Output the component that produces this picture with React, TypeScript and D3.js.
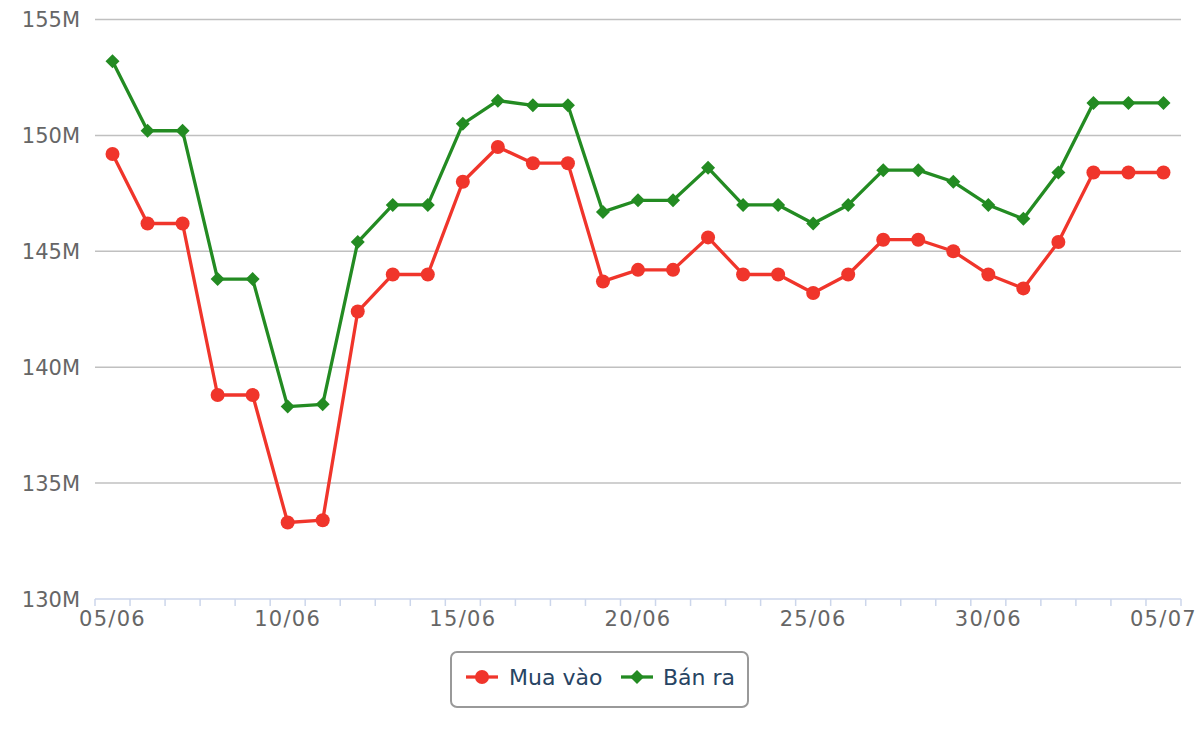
import React from "react";
import * as d3 from "d3";

const categories = [
  "05/06","06/06","07/06","08/06","09/06","10/06","11/06","12/06","13/06","14/06",
  "15/06","16/06","17/06","18/06","19/06","20/06","21/06","22/06","23/06","24/06",
  "25/06","26/06","27/06","28/06","29/06","30/06","01/07","02/07","03/07","04/07","05/07",
];
const muaVao = [
  149.2,146.2,146.2,138.8,138.8,133.3,133.4,142.4,144.0,144.0,
  148.0,149.5,148.8,148.8,143.7,144.2,144.2,145.6,144.0,144.0,
  143.2,144.0,145.5,145.5,145.0,144.0,143.4,145.4,148.4,148.4,148.4,
];
const banRa = [
  153.2,150.2,150.2,143.8,143.8,138.3,138.4,145.4,147.0,147.0,
  150.5,151.5,151.3,151.3,146.7,147.2,147.2,148.6,147.0,147.0,
  146.2,147.0,148.5,148.5,148.0,147.0,146.4,148.4,151.4,151.4,151.4,
];
const yTicks = [130, 135, 140, 145, 150, 155];
const seriesNames = ["Mua vào", "Bán ra"];

const RED = "#f0352b";
const GREEN = "#238b22";
const FONT = "'DejaVu Sans', Verdana, sans-serif";

export default function App() {
  const W = 1200, H = 740;
  const left = 95, right = 1181, top = 19.5, bottom = 599;
  const x = d3.scaleBand<string>().domain(categories).range([left, right]);
  const cx = (c: string) => (x(c) as number) + x.bandwidth() / 2;
  const y = d3.scaleLinear().domain([130, 155]).range([bottom, top]);
  const line = d3.line<number>().x((_, i) => cx(categories[i])).y((d) => y(d));
  const diamond = (px: number, py: number, r: number) =>
    `M${px},${py - r}L${px + r},${py}L${px},${py + r}L${px - r},${py}Z`;

  const tickBounds = [...categories.map((c) => x(c) as number), right];

  return (
    <svg width={W} height={H} style={{ position: "absolute", left: 0, top: 0, background: "#fff" }}>
      {yTicks.map((t) => (
        <g key={t}>
          {t !== 130 && (
            <line x1={left} x2={right} y1={y(t)} y2={y(t)} stroke="#c0c0c0" strokeWidth={1.5} />
          )}
          <text x={80} y={y(t)} dy="0.36em" textAnchor="end" fontFamily={FONT} fontSize={21} fill="#666">
            {t}M
          </text>
        </g>
      ))}
      <line x1={left} x2={right} y1={bottom} y2={bottom} stroke="#ccd6eb" strokeWidth={1.5} />
      {tickBounds.map((b, i) => (
        <line key={i} x1={b} x2={b} y1={bottom} y2={bottom + 7} stroke="#ccd6eb" strokeWidth={1.5} />
      ))}
      {categories.map((c, i) =>
        i % 5 === 0 ? (
          <text key={c} x={cx(c)} y={bottom + 27} textAnchor="middle" fontFamily={FONT} fontSize={21} letterSpacing={1.3} fill="#666">
            {c}
          </text>
        ) : null
      )}
      <path d={line(muaVao) || ""} fill="none" stroke={RED} strokeWidth={3.3} strokeLinejoin="round" />
      <path d={line(banRa) || ""} fill="none" stroke={GREEN} strokeWidth={3.3} strokeLinejoin="round" />
      {muaVao.map((v, i) => (
        <circle key={i} cx={cx(categories[i])} cy={y(v)} r={7} fill={RED} />
      ))}
      {banRa.map((v, i) => (
        <path key={i} d={diamond(cx(categories[i]), y(v), 7)} fill={GREEN} />
      ))}
      <g>
        <rect x={451} y={652} width={297} height={55} rx={6} ry={6} fill="#fff" stroke="#999" strokeWidth={2} />
        <line x1={466} x2={498} y1={677} y2={677} stroke={RED} strokeWidth={3.3} />
        <circle cx={482} cy={677} r={7} fill={RED} />
        <text x={509} y={677} dy="0.36em" fontFamily={FONT} fontSize={22} fill="#274463">
          {seriesNames[0]}
        </text>
        <line x1={621} x2={653} y1={677} y2={677} stroke={GREEN} strokeWidth={3.3} />
        <path d={diamond(637, 677, 7)} fill={GREEN} />
        <text x={663} y={677} dy="0.36em" fontFamily={FONT} fontSize={22} fill="#274463">
          {seriesNames[1]}
        </text>
      </g>
    </svg>
  );
}
